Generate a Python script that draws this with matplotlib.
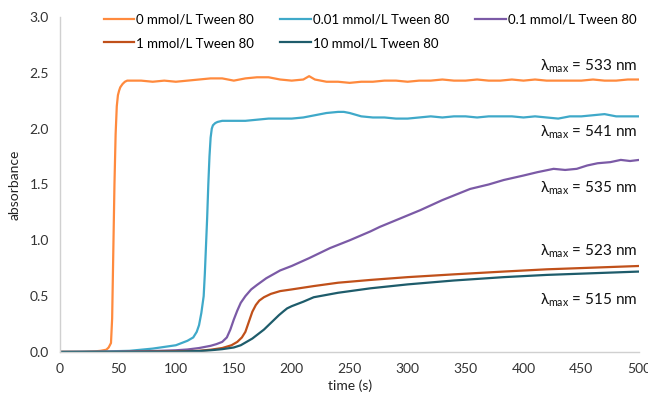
import matplotlib
matplotlib.use("Agg")
import matplotlib.pyplot as plt

plt.rcParams['font.family'] = ['Lato', 'DejaVu Sans']
plt.rcParams['mathtext.fontset'] = 'custom'
plt.rcParams['mathtext.rm'] = 'Lato'
plt.rcParams['mathtext.it'] = 'Lato'

# --- Data (time in s, absorbance)
t_0 = [0, 10, 20, 30, 35, 40, 42, 44, 45, 46, 47, 48, 49, 50, 51, 52, 54, 56, 58,
       60, 70, 80, 90, 100, 110, 120, 130, 140, 150, 160, 170, 180, 190, 200, 210,
       215, 220, 230, 240, 250, 260, 270, 280, 290, 300, 310, 320, 330, 340, 350,
       360, 370, 380, 390, 400, 410, 420, 430, 440, 450, 460, 470, 480, 490, 500]
a_0 = [0, 0, 0, 0.005, 0.01, 0.02, 0.04, 0.08, 0.3, 0.9, 1.5, 1.95, 2.2, 2.3, 2.34,
       2.37, 2.40, 2.42, 2.43,
       2.43, 2.43, 2.42, 2.43, 2.42, 2.43, 2.44, 2.45, 2.45, 2.43, 2.45, 2.46, 2.46,
       2.44, 2.43, 2.44, 2.47, 2.44, 2.42, 2.42, 2.41, 2.42, 2.42, 2.43, 2.43, 2.42,
       2.43, 2.43, 2.44, 2.43, 2.43, 2.44, 2.43, 2.43, 2.44, 2.43, 2.44, 2.43, 2.43,
       2.43, 2.43, 2.44, 2.43, 2.43, 2.44, 2.44]

t_001 = [0, 20, 40, 60, 70, 80, 90, 100, 105, 110, 115, 118, 120, 122, 124, 125, 126,
         127, 128, 129, 130, 131, 132, 134, 136, 140, 150, 160, 170, 180, 190, 200,
         210, 220, 230, 240, 245, 250, 260, 270, 280, 290, 300, 310, 320, 330, 340,
         350, 360, 370, 380, 390, 400, 410, 420, 430, 440, 450, 460, 470, 480, 490, 500]
a_001 = [0, 0.002, 0.005, 0.01, 0.02, 0.03, 0.045, 0.06, 0.08, 0.1, 0.13, 0.18, 0.24,
         0.35, 0.5, 0.7, 0.95, 1.2, 1.5, 1.75, 1.92, 2.0, 2.03, 2.05, 2.06, 2.07, 2.07,
         2.07, 2.08, 2.09, 2.09, 2.09, 2.10, 2.12, 2.14, 2.15, 2.15, 2.14, 2.11, 2.10,
         2.10, 2.09, 2.09, 2.10, 2.11, 2.10, 2.11, 2.11, 2.10, 2.11, 2.11, 2.11, 2.10,
         2.11, 2.10, 2.09, 2.11, 2.11, 2.12, 2.13, 2.11, 2.11, 2.11]

t_01 = [0, 50, 80, 100, 110, 120, 130, 135, 140, 144, 147, 150, 153, 156, 160, 165,
        170, 178, 190, 200, 215, 233, 250, 268, 276, 290, 311, 330, 354, 370, 383, 400,
        412, 426, 436, 446, 455, 464, 475, 484, 492, 500]
a_01 = [0, 0.002, 0.008, 0.015, 0.022, 0.035, 0.055, 0.07, 0.09, 0.13, 0.2, 0.29,
        0.37, 0.44, 0.5, 0.56, 0.6, 0.66, 0.73, 0.77, 0.84, 0.93, 1.0, 1.08, 1.12, 1.18,
        1.27, 1.36, 1.46, 1.5, 1.54, 1.58, 1.61, 1.64, 1.63, 1.64, 1.67, 1.69, 1.70,
        1.72, 1.71, 1.72]

t_1 = [0, 50, 100, 120, 130, 140, 148, 153, 157, 160, 163, 166, 169, 172, 176, 182,
       190, 200, 219, 240, 268, 300, 340, 383, 420, 460, 500]
a_1 = [0, 0, 0.005, 0.01, 0.02, 0.035, 0.06, 0.09, 0.13, 0.18, 0.27, 0.36, 0.42, 0.46,
       0.49, 0.52, 0.545, 0.56, 0.59, 0.62, 0.645, 0.67, 0.695, 0.72, 0.74, 0.755, 0.77]

t_10 = [0, 50, 100, 120, 130, 140, 150, 156, 161, 166, 171, 176, 181, 185, 189, 193,
        196, 200, 210, 219, 240, 268, 300, 340, 383, 420, 460, 500]
a_10 = [0, 0, 0.003, 0.008, 0.015, 0.025, 0.04, 0.06, 0.09, 0.12, 0.16, 0.2, 0.25,
        0.29, 0.33, 0.365, 0.39, 0.41, 0.45, 0.49, 0.53, 0.57, 0.605, 0.64, 0.67, 0.69,
        0.705, 0.72]

labels = ["0 mmol/L Tween 80", "0.01 mmol/L Tween 80", "0.1 mmol/L Tween 80",
          "1 mmol/L Tween 80", "10 mmol/L Tween 80"]
colors = ["#FF8A3D", "#3FA9C9", "#7B5AA6", "#C0501A", "#1E5C6B"]

lam_vals = [533, 541, 535, 523, 515]
lam_y = [2.56, 1.97, 1.47, 0.90, 0.46]

fig = plt.figure(figsize=(6.48, 3.95), dpi=100)
ax = fig.add_axes([0.0926, 0.109, 0.894, 0.848])

series = [(t_0, a_0), (t_001, a_001), (t_01, a_01), (t_1, a_1), (t_10, a_10)]
handles = []
for (t, a), lab, col in zip(series, labels, colors):
    h, = ax.plot(t, a, color=col, lw=1.6, label=lab)
    handles.append(h)

ax.set_xlim(0, 500)
ax.set_ylim(0, 3.0)
ax.set_xticks(range(0, 501, 50))
ax.set_yticks([0, 0.5, 1.0, 1.5, 2.0, 2.5, 3.0])
ax.yaxis.set_major_formatter(matplotlib.ticker.FormatStrFormatter('%.1f'))
ax.tick_params(length=0, labelsize=10, colors='#333333', pad=8)
for s in ['top', 'right']:
    ax.spines[s].set_visible(False)
for s in ['left', 'bottom']:
    ax.spines[s].set_color('#D0D0D0')
    ax.spines[s].set_linewidth(1.0)

ax.set_xlabel("time (s)", fontsize=10, color='#222222', labelpad=3)
ax.set_ylabel("absorbance", fontsize=10, color='#222222', labelpad=6)

# legend in Excel row order
order = [0, 3, 1, 4, 2]
ax.legend([handles[i] for i in order], [labels[i] for i in order], ncol=3,
          loc='upper center', bbox_to_anchor=(0.535, 1.045), frameon=False,
          fontsize=9.5, handlelength=2.3, handletextpad=0.15, columnspacing=2.0,
          labelspacing=0.85)

for v, y in zip(lam_vals, lam_y):
    ax.text(498, y, r"$\lambda_{\mathrm{max}}$" + f" = {v} nm", ha='right',
            va='center', fontsize=11, color='#111111')

fig.savefig("out.png", dpi=100)
